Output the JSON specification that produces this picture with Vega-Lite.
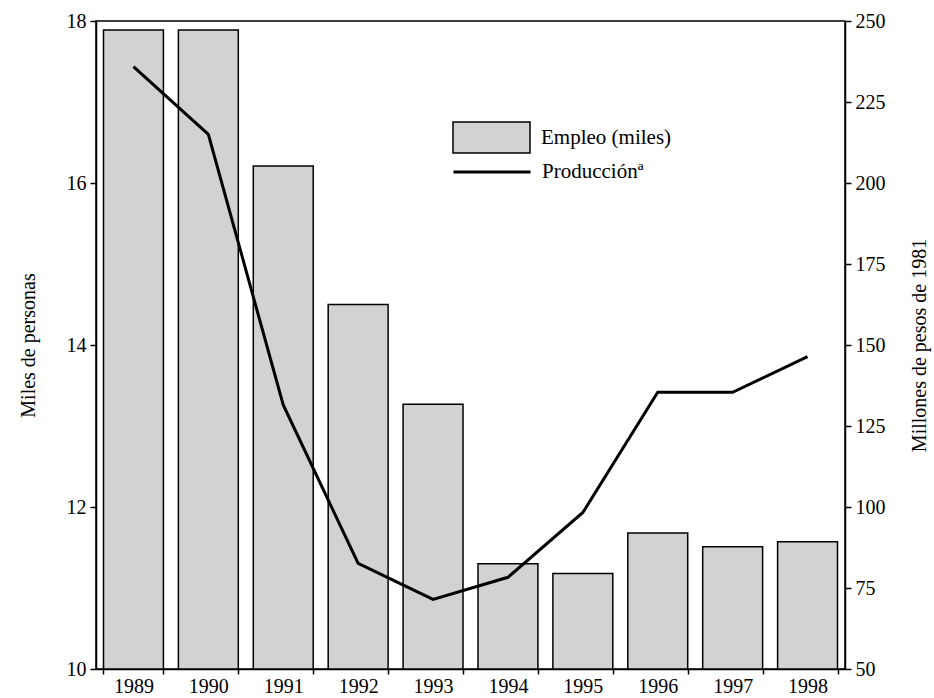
{
  "$schema": "https://vega.github.io/schema/vega-lite/v6.json",
  "width": 749,
  "height": 648,
  "autosize": {"type": "none"},
  "padding": {"left": 96, "top": 21, "right": 89, "bottom": 29},
  "background": "white",
  "config": {
    "font": "Liberation Serif",
    "view": {"stroke": "black", "strokeWidth": 1.5},
    "axis": {
      "labelFont": "Liberation Serif",
      "titleFont": "Liberation Serif",
      "labelFontSize": 20,
      "titleFontSize": 20,
      "titleFontWeight": "normal",
      "labelColor": "black",
      "titleColor": "black",
      "domainColor": "black",
      "tickColor": "black",
      "domainWidth": 1.5,
      "tickWidth": 1.5,
      "grid": false,
      "zindex": 1
    },
    "legend": {
      "labelFont": "Liberation Serif",
      "labelFontSize": 21,
      "labelColor": "black",
      "padding": 0
    }
  },
  "data": {
    "values": [
      {"year": "1989", "empleo": 17.89, "produccion": 235.9},
      {"year": "1990", "empleo": 17.89, "produccion": 215.0},
      {"year": "1991", "empleo": 16.21, "produccion": 131.5},
      {"year": "1992", "empleo": 14.50, "produccion": 82.6},
      {"year": "1993", "empleo": 13.27, "produccion": 71.5},
      {"year": "1994", "empleo": 11.30, "produccion": 78.3},
      {"year": "1995", "empleo": 11.18, "produccion": 98.3},
      {"year": "1996", "empleo": 11.68, "produccion": 135.4},
      {"year": "1997", "empleo": 11.51, "produccion": 135.4},
      {"year": "1998", "empleo": 11.57, "produccion": 146.4}
    ]
  },
  "encoding": {
    "x": {
      "field": "year",
      "type": "nominal",
      "scale": {"paddingInner": 0.2, "paddingOuter": 0.1},
      "axis": {
        "title": null,
        "labelAngle": 0,
        "tickBand": "extent",
        "tickSize": 5,
        "labelPadding": 2
      }
    }
  },
  "layer": [
    {
      "mark": {"type": "bar", "stroke": "black", "strokeWidth": 1.5, "clip": true},
      "encoding": {
        "y": {
          "field": "empleo",
          "type": "quantitative",
          "scale": {"domain": [10, 18], "nice": false, "zero": false},
          "axis": {
            "orient": "left",
            "title": "Miles de personas",
            "values": [10, 12, 14, 16, 18],
            "tickSize": 6,
            "labelPadding": 4,
            "titlePadding": 28
          }
        },
        "y2": {"datum": 10},
        "fill": {
          "datum": "Empleo (miles)",
          "scale": {"range": ["#d2d2d2"]},
          "legend": {
            "title": null,
            "orient": "none",
            "legendX": 356,
            "legendY": 77,
            "symbolType": "M-1,-0.4H1V0.4H-1Z",
            "symbolSize": 5929,
            "symbolStrokeColor": "black",
            "symbolStrokeWidth": 1.5,
            "symbolOpacity": 1,
            "labelOffset": 10
          }
        }
      }
    },
    {
      "mark": {"type": "line", "strokeWidth": 3},
      "encoding": {
        "y": {
          "field": "produccion",
          "type": "quantitative",
          "scale": {"domain": [50, 250], "nice": false, "zero": false},
          "axis": {
            "orient": "right",
            "title": "Millones de pesos de 1981",
            "titleAngle": 270,
            "values": [50, 75, 100, 125, 150, 175, 200, 225, 250],
            "tickSize": 6,
            "labelPadding": 4,
            "titlePadding": 44
          }
        },
        "stroke": {
          "datum": "Producciónª",
          "scale": {"range": ["black"]},
          "legend": {
            "title": null,
            "orient": "none",
            "legendX": 356,
            "legendY": 111,
            "symbolType": "stroke",
            "symbolSize": 5929,
            "symbolStrokeWidth": 3,
            "labelOffset": 10
          }
        }
      }
    }
  ],
  "resolve": {"scale": {"y": "independent", "fill": "independent", "stroke": "independent"}}
}
